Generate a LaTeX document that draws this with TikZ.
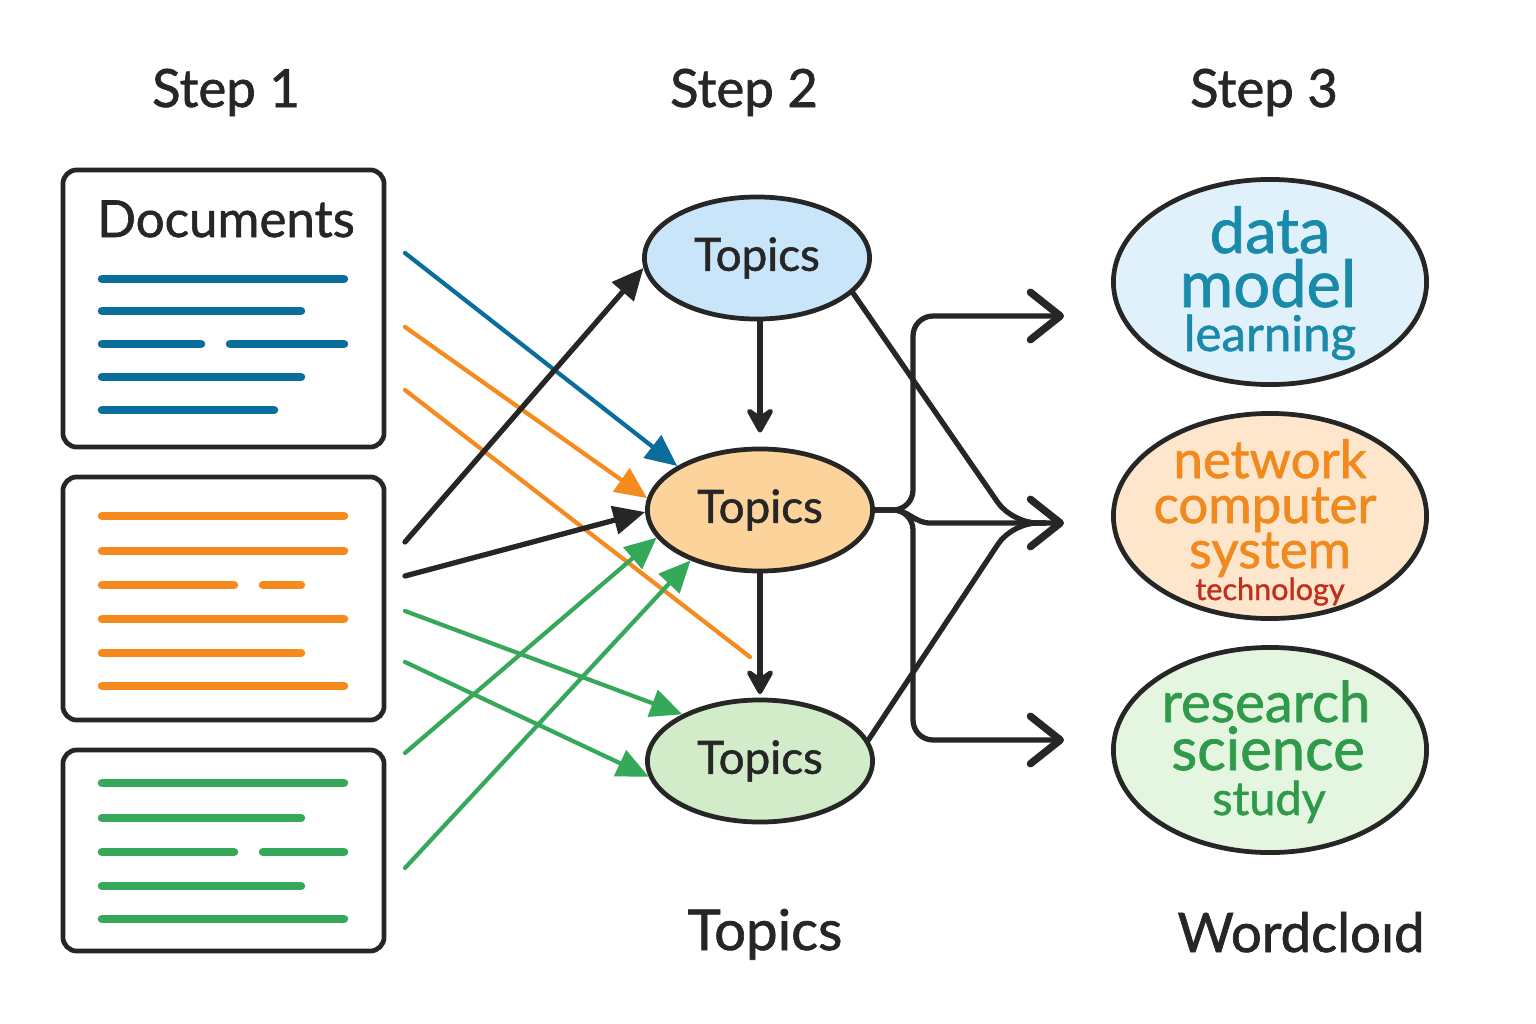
\documentclass[tikz,border=0pt]{standalone}
\usepackage{fontspec}
\setmainfont{Lato}
\newfontfamily\medf{Lato}[FakeBold=1.2]
\usetikzlibrary{arrows.meta,shapes.geometric}
\definecolor{ink}{HTML}{262626}
\definecolor{dblue}{HTML}{0A6E9C}
\definecolor{dorange}{HTML}{F58A1F}
\definecolor{dgreen}{HTML}{36A85A}
\definecolor{tblue}{HTML}{C9E5F9}
\definecolor{torange}{HTML}{FDD39C}
\definecolor{tgreen}{HTML}{D2ECC9}
\definecolor{cblue}{HTML}{E1F1FB}
\definecolor{corange}{HTML}{FDE6CB}
\definecolor{cgreen}{HTML}{E4F6E0}
\definecolor{wteal}{HTML}{1A8AAB}
\definecolor{worange}{HTML}{F08A1E}
\definecolor{wred}{HTML}{C0301C}
\definecolor{wgreen}{HTML}{2F9A4A}
\newcommand{\fs}[1]{\medf\fontsize{#1}{#1}\selectfont}
\begin{document}
\begin{tikzpicture}[x=0.01cm,y=-0.01cm,
  docbox/.style={draw=ink, line width=1.35pt, rounded corners=0.14cm, fill=white, inner sep=0pt},
  bar/.style={line width=0.085cm, line cap=round},
  topic/.style={ellipse, draw=ink, line width=1.35pt, minimum width=2.25cm, minimum height=1.22cm, inner sep=0pt, font=\fs{13pt}, text=ink},
  cloud/.style={ellipse, draw=ink, line width=1.35pt, minimum width=3.13cm, minimum height=2.05cm, inner sep=0pt},
  title/.style={anchor=base, text=ink, font=\fs{15pt}},
  word/.style={anchor=base, inner sep=0pt},
  feed/.style={line width=1.2pt, line cap=round, -{Triangle[length=9pt,width=8pt]}},
  link/.style={draw=ink, line width=1.5pt, line cap=round},
  vdown/.style={link, -{Stealth[length=9pt,width=10pt,inset=3.5pt,round]}},
  outarrow/.style={-{Straight Barb[length=8.5pt,width=13.5pt,line width=2.1pt,round]}}
]
\useasboundingbox (0,0) rectangle (1536,1024);

% titles
\node[title] (s1) at (226,107) {Step 1};
\node[title] (s2) at (744,107) {Step 2};
\node[title] (s3) at (1264,107) {Step 3};

% document boxes
\node[docbox, minimum width=3.21cm, minimum height=2.77cm] (d1) at (223.5,308.5) {};
\node[docbox, minimum width=3.21cm, minimum height=2.43cm] (d2) at (223.5,598.5) {};
\node[docbox, minimum width=3.21cm, minimum height=2.01cm] (d3) at (223.5,850.5) {};
\node[anchor=base, text=ink, font=\fs{14.5pt}] (doc) at (226,237) {Documents};

\begin{scope}[dblue]
\draw[bar] (102,279) -- (344,279);
\draw[bar] (102,311) -- (301,311);
\draw[bar] (102,344) -- (201,344);
\draw[bar] (230,344) -- (344,344);
\draw[bar] (102,377) -- (301,377);
\draw[bar] (102,410) -- (274,410);
\end{scope}
\begin{scope}[dorange]
\draw[bar] (102,516) -- (344,516);
\draw[bar] (102,551) -- (344,551);
\draw[bar] (102,585) -- (234,585);
\draw[bar] (263,585) -- (301,585);
\draw[bar] (102,619) -- (344,619);
\draw[bar] (102,653) -- (301,653);
\draw[bar] (102,686) -- (344,686);
\end{scope}
\begin{scope}[dgreen]
\draw[bar] (102,783) -- (344,783);
\draw[bar] (102,818) -- (301,818);
\draw[bar] (102,852) -- (234,852);
\draw[bar] (263,852) -- (344,852);
\draw[bar] (102,886) -- (301,886);
\draw[bar] (102,919) -- (344,919);
\end{scope}

% topic ellipses
\node[topic, fill=tblue] (t1) at (757,258) {Topics};
\node[topic, fill=torange] (t2) at (760,510) {Topics};
\node[topic, fill=tgreen] (t3) at (760,761) {Topics};

% wordcloud ellipses
\node[cloud, fill=cblue] (w1) at (1270,282) {};
\node[cloud, fill=corange] (w2) at (1270,516) {};
\node[cloud, fill=cgreen] (w3) at (1270,750) {};

\node[word, text=wteal, font=\fs{18pt}] (wa) at (1270,253) {data};
\node[word, text=wteal, font=\fs{18.5pt}] (wb) at (1268,307) {model};
\node[word, text=wteal, font=\fs{14pt}] (wc) at (1270,351) {learning};
\node[word, text=worange, font=\fs{15pt}] (wd) at (1270,478) {network};
\node[word, text=worange, font=\fs{15pt}] (we) at (1265,523) {computer};
\node[word, text=worange, font=\fs{15pt}] (wf) at (1270,568) {system};
\node[word, text=wred, font=\fs{8.7pt}] (wg) at (1270,600) {technology};
\node[word, text=wgreen, font=\fs{16pt}] (wh) at (1266,722) {research};
\node[word, text=wgreen, font=\fs{17pt}] (wi) at (1268,770) {science};
\node[word, text=wgreen, font=\fs{13.3pt}] (wj) at (1269,815) {study};

% bottom labels
\node[anchor=base, text=ink, font=\fs{16pt}] (lt) at (765,950) {Topics};
\node[anchor=base, text=ink, font=\fs{15.5pt}] (lw) at (1301,952) {Wordcloıd};

% free start points of feeds
\coordinate (b1) at (405,253);
\coordinate (o1) at (405,327);
\coordinate (o2) at (405,390);
\coordinate (o2e) at (750,657);
\coordinate (k1) at (405,542);
\coordinate (k2) at (405,576);
\coordinate (g1) at (405,611);
\coordinate (g2) at (405,662);
\coordinate (g3) at (405,753);
\coordinate (g4) at (405,868);

\draw[feed, dblue] (b1) -- (t2.152);
\draw[feed, dorange] (o1) -- (t2.174);
\draw[line width=1.2pt, line cap=round, dorange] (o2) -- (o2e);
\draw[feed, ink, line width=1.5pt] (k1) -- (t1.185);
\draw[feed, ink, line width=1.5pt] (k2) -- (t2.181);
\draw[feed, dgreen] (g1) -- (t3.149);
\draw[feed, dgreen] (g2) -- (t3.188);
\draw[feed, dgreen] (g3) -- (t2.195);
\draw[feed, dgreen] (g4) -- (t2.216);

% vertical arrows
\draw[vdown, shorten >=4pt] (t1.south -| t2.north) -- (t2.north);
\draw[vdown, shorten >=1pt] (t2.south) -- (t3.north);

% right side connectors
\coordinate (a1) at (1064,316);
\coordinate (a2) at (1064,523);
\coordinate (a3) at (1064,740);
\coordinate (m2) at (1045,523);

\draw[link, rounded corners=0.25cm] (t1.-20) -- (1012,523) -- (m2);
\draw[link, rounded corners=0.25cm] (t3.11) -- (1012,523) -- (m2);
\draw[link, rounded corners=0.2cm, outarrow] (t2.east) -- (913,510) -- (913,316) -- (a1);
\draw[link, rounded corners=0.2cm, outarrow] (t2.east) -- (913,510) -- (913,740) -- (a3);
\draw[link, outarrow] (t2.east) -- (893,510) to[out=0,in=180] (930,523) -- (a2);
\end{tikzpicture}
\end{document}
